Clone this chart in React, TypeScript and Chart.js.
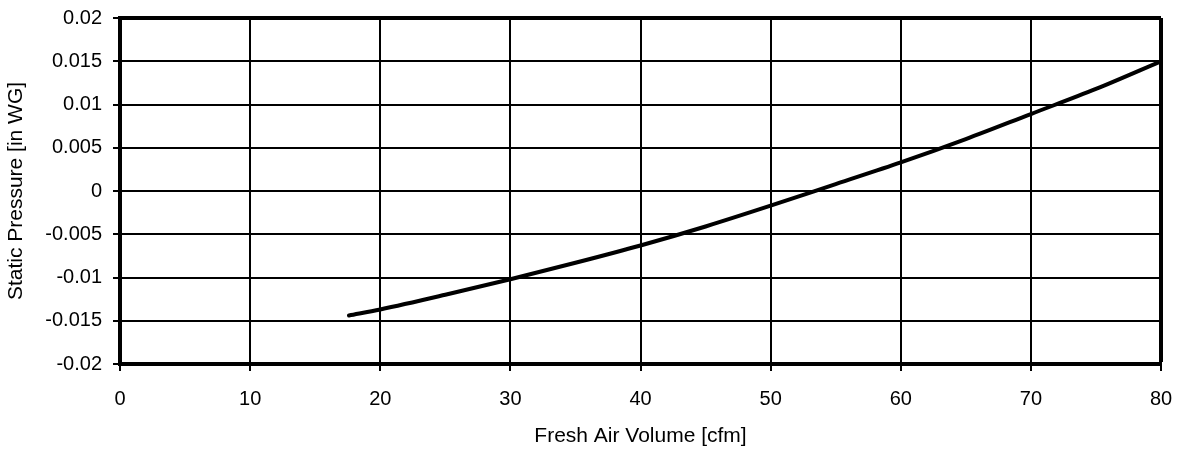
import React, { useEffect, useRef } from "react";
import { Chart, registerables } from "chart.js";

Chart.register(...registerables);

const airVolume = [17.6, 20, 25, 30, 35, 40, 45, 50, 55, 60, 65, 70, 75, 80];
const staticPressure = [
  -0.0144, -0.0137, -0.012, -0.0102, -0.0083, -0.0063, -0.0041, -0.0017, 0.0008,
  0.0033, 0.006, 0.0089, 0.0118, 0.015,
];
const xTicks = { min: 0, max: 80, step: 10 };
const yTicks = { min: -0.02, max: 0.02, step: 0.005 };
const xTitle = "Fresh Air Volume [cfm]";
const yTitle = "Static Pressure [in WG]";

const FONT = "'Liberation Sans', Arial, Helvetica, sans-serif";

export default function App() {
  const ref = useRef<HTMLCanvasElement | null>(null);

  useEffect(() => {
    if (!ref.current) return;
    const chart = new Chart(ref.current, {
      type: "scatter",
      data: {
        datasets: [
          {
            data: airVolume.map((x, i) => ({ x, y: staticPressure[i] })),
            showLine: true,
            borderColor: "#000",
            borderWidth: 4,
            pointRadius: 0,
            borderCapStyle: "round",
            borderJoinStyle: "round",
            cubicInterpolationMode: "monotone",
            fill: false,
          },
        ],
      },
      options: {
        animation: false,
        responsive: false,
        devicePixelRatio: 1,
        layout: { padding: { top: 18, right: 22, left: 0, bottom: 0 } },
        plugins: { legend: { display: false }, tooltip: { enabled: false } },
        scales: {
          x: {
            type: "linear",
            min: xTicks.min,
            max: xTicks.max,
            afterFit: (s: any) => {
              s.height = 91;
              s.paddingLeft = 0;
              s.paddingRight = 0;
            },
            ticks: {
              stepSize: xTicks.step,
              color: "#000",
              padding: 16,
              font: { family: FONT, size: 20 },
              maxRotation: 0,
            },
            grid: {
              color: "#000",
              lineWidth: (c: any) => (c.tick && c.tick.value === xTicks.max ? 4 : 2),
              tickLength: 7,
              tickWidth: 2,
              tickColor: "#000",
            },
            border: { display: true, color: "#000", width: 4 },
            title: {
              display: true,
              text: xTitle,
              color: "#000",
              font: { family: FONT, size: 21 },
              padding: { top: 0, bottom: 6 },
            },
          },
          y: {
            type: "linear",
            min: yTicks.min,
            max: yTicks.max,
            afterFit: (s: any) => {
              s.width = 120;
              s.paddingTop = 0;
              s.paddingBottom = 0;
            },
            ticks: {
              stepSize: yTicks.step,
              color: "#000",
              padding: 11,
              font: { family: FONT, size: 20 },
              callback: (v: any) => String(parseFloat(Number(v).toFixed(3))),
            },
            grid: {
              color: "#000",
              lineWidth: (c: any) =>
                c.tick && Math.abs(c.tick.value - yTicks.max) < 1e-9 ? 4 : 2,
              tickLength: 7,
              tickWidth: 2,
              tickColor: "#000",
            },
            border: { display: true, color: "#000", width: 4 },
            title: {
              display: true,
              text: yTitle,
              color: "#000",
              font: { family: FONT, size: 21 },
              padding: { top: 4, bottom: 0 },
            },
          },
        },
      },
    });
    return () => chart.destroy();
  }, []);

  return (
    <div style={{ position: "absolute", left: 0, top: 0, width: 1183, height: 455, background: "#fff" }}>
      <canvas ref={ref} width={1183} height={455} style={{ display: "block" }} />
    </div>
  );
}
